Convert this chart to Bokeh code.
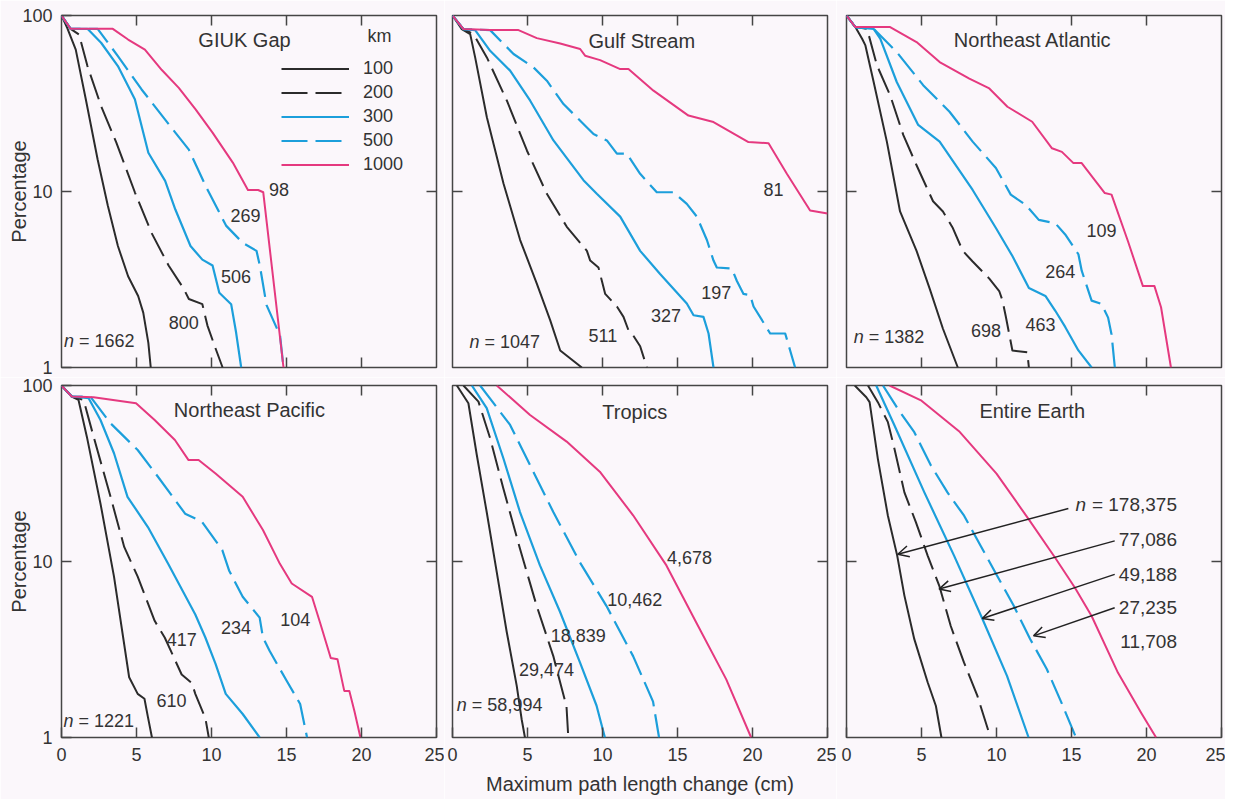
from bokeh.plotting import figure
from bokeh.models import (Range1d, FixedTicker, LinearAxis, LogAxis, CustomJSTickFormatter,
                          PrintfTickFormatter, Legend, LegendItem, Arrow, OpenHead, ColumnDataSource)
from bokeh.layouts import column, row
from bokeh.core.properties import value
from bokeh.embed import file_html
from bokeh.resources import INLINE

# ---------------- data ----------------
KM = ["100", "200", "300", "500", "1000"]

# GIUK Gap
G100_X = [0, 0.38, 0.95, 1.62, 2.41, 3.09, 3.76, 4.44, 5.11, 5.45, 5.79, 5.95]
G100_Y = [100, 85, 64, 33.4, 15.2, 8.3, 4.9, 3.3, 2.55, 2.05, 1.38, 1.0]
G200_X = [0, 0.61, 1.17, 1.73, 2.64, 3.65, 4.89, 6.01, 7.14, 8.15, 8.49, 9.39, 9.73, 10.29, 10.74]
G200_Y = [100, 84, 78, 51.6, 30.6, 19.0, 9.9, 5.8, 3.8, 2.8, 2.45, 2.29, 1.73, 1.27, 1.0]
G300_X = [0, 0.61, 1.73, 2.64, 3.76, 4.89, 5.79, 6.91, 7.59, 8.60, 9.39, 10.07, 10.52, 11.31, 11.64, 11.98]
G300_Y = [100, 84, 84, 70, 51.6, 33.4, 16.6, 11.5, 7.9, 4.9, 4.1, 3.8, 2.66, 2.29, 1.58, 1.0]
G500_X = [0, 0.61, 2.41, 3.76, 5.34, 7.59, 8.49, 9.62, 10.97, 12.09, 13.0, 13.22, 13.67, 14.57, 14.80]
G500_Y = [100, 84, 84, 58.8, 38, 21.6, 17.3, 10.7, 6.4, 5.1, 4.6, 3.8, 2.26, 1.52, 1.0]
G1000_X = [0, 0.61, 3.42, 4.44, 5.56, 6.69, 7.82, 8.94, 10.07, 11.42, 12.43, 13.11, 13.45, 14.80]
G1000_Y = [100, 84, 84, 73, 64, 49, 38.8, 29.3, 21.6, 14.6, 10.2, 10.2, 9.9, 1.0]

# Gulf Stream
GS100_X = [0, 0.62, 1.18, 1.51, 2.29, 3.40, 4.51, 5.62, 6.51, 7.18, 8.62]
GS100_Y = [100, 83.7, 78.4, 57.8, 26.4, 11.1, 5.3, 3.0, 1.86, 1.25, 1.0]
GS200_X = [0, 0.73, 1.40, 2.29, 3.62, 4.96, 6.29, 7.62, 8.96, 9.18, 9.73, 9.96, 10.18, 10.96, 11.4,
           11.73, 11.96, 12.51, 12.96]
GS200_Y = [100, 83.7, 78.4, 57.8, 32.9, 17.1, 9.7, 6.3, 4.6, 4.05, 3.7, 3.1, 2.62, 2.22, 1.94,
           1.63, 1.56, 1.32, 1.0]
GS300_X = [0, 0.73, 1.51, 2.51, 3.84, 5.18, 6.73, 8.73, 9.62, 11.18, 12.51, 13.84, 15.62, 16.07,
           16.73, 17.07, 17.40]
GS300_Y = [100, 83.7, 82.6, 63, 48.6, 32.8, 19.5, 11.6, 9.7, 7.2, 4.6, 3.4, 2.31, 1.98, 1.94, 1.56, 1.0]
GS500_X = [0, 0.73, 2.51, 4.07, 5.40, 6.29, 7.40, 8.73, 9.40, 10.29, 10.96, 11.62, 12.51, 13.62,
           14.73, 15.62, 16.29, 16.96, 17.4, 17.62, 18.62, 18.96, 19.4, 19.84, 20.07, 21.18, 22.18,
           22.51, 22.84]
GS500_Y = [100, 83.7, 82.6, 60.4, 50.7, 42.6, 31.4, 24.2, 21.2, 19.5, 16.4, 16.4, 12.6, 9.9, 9.9,
           8.5, 7.2, 5.3, 4.05, 3.7, 3.65, 3.1, 2.62, 2.58, 2.22, 1.56, 1.56, 1.25, 1.0]
GS1000_X = [0, 0.73, 2.51, 4.4, 5.62, 7.18, 8.51, 8.84, 9.84, 11.18, 11.73, 13.4, 15.73, 17.4,
            19.73, 21.07, 22.29, 23.84, 25]
GS1000_Y = [100, 83.7, 82.6, 82.6, 74.4, 69.4, 64.5, 59.1, 55.8, 49.6, 49.6, 37.4, 27, 24.8,
            19.1, 18.8, 12.6, 7.8, 7.5]

# Northeast Atlantic
NA100_X = [0, 0.59, 1.04, 1.26, 1.81, 2.69, 3.57, 4.67, 5.55, 6.43, 7.42]
NA100_Y = [100, 85.9, 73.8, 67.6, 41.9, 19.2, 7.7, 4.6, 2.8, 1.66, 1.0]
NA200_X = [0, 0.59, 1.37, 2.03, 2.91, 3.79, 4.67, 5.77, 6.43, 7.09, 7.75, 8.41, 9.52, 10.18, 10.4,
           10.62, 11.06, 12.05, 12.16]
NA200_Y = [100, 85.9, 84, 52.1, 35.2, 20.9, 14.1, 8.8, 7.7, 6.2, 4.6, 4.0, 3.2, 2.72, 2.4, 1.95,
           1.25, 1.22, 1.0]
NA300_X = [0, 0.59, 1.81, 2.25, 3.35, 4.78, 6.21, 8.41, 9.96, 11.06, 12.16, 13.26, 13.92, 14.58,
           15.46, 16.34]
NA300_Y = [100, 85.9, 84, 73.8, 41.9, 23.9, 19.2, 10.2, 6.2, 4.3, 2.83, 2.55, 2.1, 1.7, 1.25, 1.0]
NA500_X = [0, 0.59, 1.81, 3.35, 5.11, 6.87, 8.41, 9.96, 10.95, 11.94, 12.82, 13.92, 14.58, 15.46,
           15.68, 16.34, 17.0, 17.44, 17.67, 17.89]
NA500_Y = [100, 85.9, 84, 62, 40.2, 28.4, 19.2, 13.6, 9.6, 8.4, 6.9, 6.6, 5.7, 4.4, 3.55, 2.4,
           2.3, 1.92, 1.54, 1.0]
NA1000_X = [0, 0.59, 2.91, 4.67, 6.21, 8.19, 9.52, 10.73, 12.38, 13.70, 14.36, 15.13, 15.68,
            17.22, 17.67, 18.77, 19.76, 20.53, 20.97, 21.63]
NA1000_Y = [100, 85.9, 85.9, 70.6, 54.4, 43.8, 38.5, 30.3, 24.9, 17.6, 16.8, 14.5, 14.5, 9.8,
            9.6, 5.2, 2.9, 2.9, 2.2, 1.0]

# Northeast Pacific
NP100_X = [0, 0.68, 1.13, 1.69, 2.6, 3.5, 4.51, 5.08, 5.53, 5.76, 6.03]
NP100_Y = [100, 86.6, 82.9, 51.2, 21.3, 8.2, 2.2, 1.77, 1.66, 1.31, 1.0]
NP200_X = [0, 0.68, 1.47, 2.14, 3.27, 4.18, 5.08, 6.21, 6.88, 8.01, 8.69, 8.92, 9.59, 9.82]
NP200_Y = [100, 86.6, 82.9, 51.2, 23.3, 12.1, 8.2, 4.6, 3.7, 2.28, 2.04, 1.77, 1.29, 1.0]
NP300_X = [0, 0.68, 1.81, 2.6, 3.5, 4.4, 5.76, 7.11, 8.92, 9.59, 10.27, 10.95, 12.08, 13.21]
NP300_Y = [100, 86.6, 84.7, 63.7, 41.2, 23.3, 15.7, 9.7, 5.0, 3.7, 2.62, 1.77, 1.36, 1.0]
NP500_X = [0, 0.68, 1.92, 3.27, 5.08, 6.43, 8.24, 9.37, 10.72, 11.17, 12.08, 13.21, 13.43, 13.88,
           15.01, 15.91, 16.37]
NP500_Y = [100, 86.6, 86.6, 61, 43, 30.3, 18.7, 16.8, 11.6, 8.9, 6.3, 4.8, 3.7, 3.1, 2.1, 1.55, 1.0]
NP1000_X = [0, 0.68, 2.14, 4.97, 6.21, 7.56, 8.47, 9.14, 10.27, 12.08, 13.43, 14.56, 15.35, 16.7,
            17.27, 17.95, 18.4, 18.85, 19.19, 19.53, 19.93]
NP1000_Y = [100, 86.6, 85.8, 79.3, 63.7, 49, 37.7, 37.7, 31.6, 23.3, 15.1, 9.7, 7.5, 6.3, 4.4,
            2.83, 2.78, 1.84, 1.84, 1.41, 1.0]

# Tropics
TR100_X = [0.29, 1.06, 1.62, 2.28, 2.95, 3.61, 4.28, 4.61, 4.83]
TR100_Y = [100, 79.3, 40.3, 19.1, 8.7, 4.0, 1.97, 1.27, 1.0]
TR200_X = [0.73, 1.73, 2.51, 3.39, 4.5, 5.61, 6.72, 7.6, 7.72]
TR200_Y = [100, 81, 50.1, 26, 11.8, 5.6, 2.9, 1.5, 1.0]
TR300_X = [1.29, 2.28, 3.39, 4.5, 5.83, 7.16, 8.49, 9.6, 10.16]
TR300_Y = [100, 74.3, 38.6, 19.1, 9.5, 5.2, 2.68, 1.52, 1.0]
TR500_X = [1.84, 3.84, 5.17, 6.72, 8.49, 10.26, 12.04, 13.37, 13.77]
TR500_Y = [100, 59.7, 35.3, 19.1, 9.9, 5.6, 2.9, 1.6, 1.0]
TR1000_X = [2.95, 5.17, 7.61, 9.82, 12.04, 14.26, 16.25, 18.25, 19.91]
TR1000_Y = [100, 68, 48, 32.4, 18.3, 9.5, 4.5, 2.14, 1.0]

# Entire Earth
EE100_X = [0.55, 1.32, 1.54, 2.09, 2.76, 3.38, 3.86, 4.52, 5.41, 5.96, 6.33]
EE100_Y = [100, 85.8, 80.4, 38.3, 18.2, 10.8, 6.4, 3.62, 2.06, 1.51, 1.0]
EE200_X = [1.43, 2.09, 2.76, 3.2, 3.86, 4.63, 5.41, 6.18, 6.95, 7.83, 8.72, 9.6]
EE200_Y = [100, 80.4, 61.9, 43.6, 24.7, 16.7, 10.8, 7.3, 4.3, 2.67, 1.73, 1.0]
EE300_X = [1.98, 3.2, 5.19, 7.17, 9.05, 10.7, 12.14]
EE300_Y = [100, 59.2, 24.7, 10.8, 4.74, 2.24, 1.0]
EE500_X = [2.43, 3.42, 4.52, 5.63, 6.73, 7.84, 8.94, 10.04, 11.15, 12.25, 13.35, 14.3, 15.3]
EE500_Y = [100, 73.7, 54.3, 35.1, 24.7, 18.2, 12.3, 8.3, 5.6, 3.62, 2.45, 1.6, 1.0]
EE1000_X = [2.87, 5.0, 7.5, 10.0, 12.14, 13.91, 15.23, 16.34, 18.1, 19.65, 20.64]
EE1000_Y = [100, 82, 55, 31.6, 17.4, 10.5, 7.1, 4.9, 2.33, 1.38, 1.0]

# sample sizes (n) per panel, ordered as KM
GIUK_N = ["1662", "800", "506", "269", "98"]
GULF_N = ["1047", "511", "327", "197", "81"]
NEA_N = ["1382", "698", "463", "264", "109"]
NEP_N = ["1221", "610", "417", "234", "104"]
TROP_N = ["58,994", "29,474", "18,839", "10,462", "4,678"]
EARTH_N = ["178,375", "77,086", "49,188", "27,235", "11,708"]

TITLES = ["GIUK Gap", "Gulf Stream", "Northeast Atlantic", "Northeast Pacific", "Tropics", "Entire Earth"]

X_TICKS = [0, 5, 10, 15, 20, 25]
X_INNER_TICKS = [5, 10, 15, 20]
Y_TICKS = [1, 10, 100]
Y_INNER_TICKS = [10]
X_TITLE = "Maximum path length change (cm)"
Y_TITLE = "Percentage"
LEGEND_TITLE = "km"

# ---------------- positions of annotations ----------------
TITLE_POS = [(12.2, 73), (12.62, 72), (12.42, 73), (12.53, 72.6), (12.15, 71), (12.38, 72)]
# anchor of the "n = ..." label (left edge of "=")
NLABEL_POS = [(1.17, 1.41), (2.13, 1.40), (1.48, 1.49), (1.13, 1.24), (1.29, 1.52)]
# centre positions of the other count labels (200, 300, 500, 1000 km)
COUNT_POS = [
    [(8.15, 1.8), (11.64, 3.3), (12.27, 7.3), (14.5, 10.2)],
    [(10.02, 1.52), (14.24, 1.97), (17.58, 2.66), (21.4, 10.2)],
    [(9.3, 1.62), (12.93, 1.75), (14.25, 3.5), (17.0, 6.0)],
    [(7.34, 1.62), (8.01, 3.6), (11.63, 4.2), (15.58, 4.7)],
    [(6.27, 2.44), (8.38, 3.8), (12.15, 6.05), (15.8, 10.6)],
]
EARTH_LABEL_X = 22.03
EARTH_LABEL_Y = [21.2, 13.4, 8.45, 5.5, 3.52]
EARTH_ARROW_X0 = [14.79, 17.88, 17.88, 17.88]
EARTH_ARROW_Y0 = [20.0, 13.1, 8.45, 5.46]
EARTH_ARROW_X1 = [3.42, 6.17, 9.05, 12.47]
EARTH_ARROW_Y1 = [11.0, 6.97, 4.74, 3.78]
KM_LABEL_POS = (21.2, 76.3)

# ---------------- styles ----------------
FONT = "Liberation Sans"
TEXT = "#333333"
FRAME = "#454545"
BG = "#fbf7fb"
COLORS = {"100": "#2b2b2b", "200": "#2b2b2b", "300": "#1c9fdb", "500": "#1c9fdb", "1000": "#e5397f"}
DASH = {"100": "solid", "200": "26 8", "300": "solid", "500": "26 8", "1000": "solid"}
WIDTH = {"100": 2.0, "200": 2.0, "300": 2.2, "500": 2.2, "1000": 2.0}

BL = [61, 8, 10]
BR = [8, 9, 4]
BT = [15, 8]
BB = [10, 62]

CURVES = [
    {"100": (G100_X, G100_Y), "200": (G200_X, G200_Y), "300": (G300_X, G300_Y),
     "500": (G500_X, G500_Y), "1000": (G1000_X, G1000_Y)},
    {"100": (GS100_X, GS100_Y), "200": (GS200_X, GS200_Y), "300": (GS300_X, GS300_Y),
     "500": (GS500_X, GS500_Y), "1000": (GS1000_X, GS1000_Y)},
    {"100": (NA100_X, NA100_Y), "200": (NA200_X, NA200_Y), "300": (NA300_X, NA300_Y),
     "500": (NA500_X, NA500_Y), "1000": (NA1000_X, NA1000_Y)},
    {"100": (NP100_X, NP100_Y), "200": (NP200_X, NP200_Y), "300": (NP300_X, NP300_Y),
     "500": (NP500_X, NP500_Y), "1000": (NP1000_X, NP1000_Y)},
    {"100": (TR100_X, TR100_Y), "200": (TR200_X, TR200_Y), "300": (TR300_X, TR300_Y),
     "500": (TR500_X, TR500_Y), "1000": (TR1000_X, TR1000_Y)},
    {"100": (EE100_X, EE100_Y), "200": (EE200_X, EE200_Y), "300": (EE300_X, EE300_Y),
     "500": (EE500_X, EE500_Y), "1000": (EE1000_X, EE1000_Y)},
]
COUNTS = [GIUK_N, GULF_N, NEA_N, NEP_N, TROP_N, EARTH_N]


def style_axis(ax, labeled, standoff):
    ax.axis_line_color = None
    ax.major_tick_line_color = FRAME
    ax.major_tick_line_width = 1.5
    ax.major_tick_in = 10
    ax.major_tick_out = 0
    ax.minor_tick_line_color = None
    ax.major_label_text_font = FONT
    ax.major_label_text_color = TEXT
    if labeled:
        ax.major_label_text_font_size = "18px"
        ax.major_label_standoff = standoff
    else:
        ax.formatter = CustomJSTickFormatter(code="return ''")
        ax.major_label_text_font_size = "0px"
        ax.major_label_standoff = 0
    return ax


def txt(p, xs, ys, texts, size="18px", align="center", style="normal", x_offset=0):
    p.text(x=xs, y=ys, text=texts, text_font=value(FONT), text_font_size=value(size),
           text_color=TEXT, text_align=align, text_baseline="middle",
           text_font_style=style, x_offset=x_offset)


figs = []
for i in range(6):
    r, c = divmod(i, 3)
    p = figure(frame_width=375, frame_height=352, x_range=Range1d(0, 25), y_range=Range1d(1, 100),
               y_axis_type="log", x_axis_location=None, y_axis_location=None,
               output_backend="svg", toolbar_location=None,
               min_border_left=BL[c], min_border_right=BR[c],
               min_border_top=BT[r], min_border_bottom=BB[r])
    p.background_fill_color = BG
    p.border_fill_color = BG
    p.outline_line_color = FRAME
    p.outline_line_width = 1.5
    for g in p.grid:
        g.visible = False

    # axes
    xb = LinearAxis(ticker=FixedTicker(ticks=X_TICKS if r == 1 else X_INNER_TICKS))
    style_axis(xb, r == 1, 10)
    if i == 4:
        xb.axis_label = X_TITLE
        xb.axis_label_text_font = FONT
        xb.axis_label_text_font_size = "20px"
        xb.axis_label_text_font_style = "normal"
        xb.axis_label_text_color = TEXT
        xb.axis_label_standoff = 9
    p.add_layout(xb, "below")
    xt = LinearAxis(ticker=FixedTicker(ticks=X_INNER_TICKS))
    style_axis(xt, False, 0)
    p.add_layout(xt, "above")
    yl = LogAxis(ticker=FixedTicker(ticks=Y_TICKS if c == 0 else Y_INNER_TICKS))
    style_axis(yl, c == 0, 9)
    if c == 0:
        yl.formatter = PrintfTickFormatter(format="%d")
        yl.axis_label = Y_TITLE
        yl.axis_label_text_font = FONT
        yl.axis_label_text_font_size = "20px"
        yl.axis_label_text_font_style = "normal"
        yl.axis_label_text_color = TEXT
        yl.axis_label_standoff = -11
    p.add_layout(yl, "left")
    yr = LogAxis(ticker=FixedTicker(ticks=Y_INNER_TICKS))
    style_axis(yr, False, 0)
    p.add_layout(yr, "right")

    # curves
    rends = {}
    for km in KM:
        xs, ys = CURVES[i][km]
        rends[km] = p.line(xs, ys, line_color=COLORS[km], line_width=WIDTH[km],
                           line_dash=DASH[km], line_join="round")

    # title
    txt(p, [TITLE_POS[i][0]], [TITLE_POS[i][1]], [TITLES[i]], size="20px")

    counts = COUNTS[i]
    if i < 5:
        ax_, ay_ = NLABEL_POS[i]
        txt(p, [ax_], [ay_], ["n"], align="right", style="italic", x_offset=-5)
        txt(p, [ax_], [ay_], ["= " + counts[0]], align="left")
        cx = [pos[0] for pos in COUNT_POS[i]]
        cy = [pos[1] for pos in COUNT_POS[i]]
        txt(p, cx, cy, counts[1:])
    else:
        txt(p, [EARTH_LABEL_X] * 5, EARTH_LABEL_Y, ["= " + counts[0]] + counts[1:],
            size="19px", align="right")
        txt(p, [EARTH_LABEL_X], [EARTH_LABEL_Y[0]], ["n"], size="19px", align="right",
            style="italic", x_offset=-91)
        src = ColumnDataSource(dict(x0=EARTH_ARROW_X0, y0=EARTH_ARROW_Y0,
                                    x1=EARTH_ARROW_X1, y1=EARTH_ARROW_Y1))
        p.add_layout(Arrow(end=OpenHead(size=11, line_width=1.5, line_color="#222222"),
                           source=src, x_start="x0", y_start="y0", x_end="x1", y_end="y1",
                           line_width=1.5, line_color="#222222"))

    if i == 0:
        items = [LegendItem(label=km, renderers=[rends[km]]) for km in KM]
        leg = Legend(items=items, location=(220, 192), padding=0, margin=0, spacing=3,
                     glyph_width=68, glyph_height=21, label_height=21, label_standoff=14,
                     label_text_font=FONT, label_text_font_size="18px", label_text_color=TEXT,
                     border_line_color=None, background_fill_alpha=0)
        p.add_layout(leg)
        txt(p, [KM_LABEL_POS[0]], [KM_LABEL_POS[1]], [LEGEND_TITLE])
    figs.append(p)

layout = column(row(figs[0], figs[1], figs[2]), row(figs[3], figs[4], figs[5]))
open("out.html", "w").write(file_html(layout, INLINE))
